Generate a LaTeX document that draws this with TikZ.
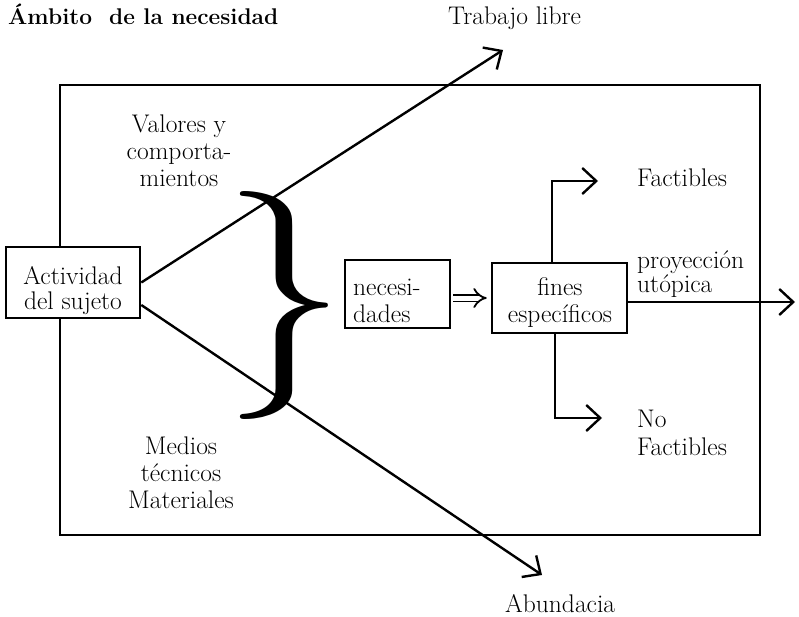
\documentclass[tikz,border=0pt]{standalone}
\usepackage{fontspec}
\usetikzlibrary{arrows.meta,calc}
\begin{document}
\begin{tikzpicture}[x=1pt,y=-1pt,
  txt/.style={font=\fontsize{25.5}{27}\selectfont, inner sep=0pt, align=center},
  titletxt/.style={font=\fontsize{22.7}{26}\selectfont\bfseries, inner sep=0pt},
  box/.style={draw, fill=white, line width=2.6pt, inner sep=0pt},
  arr/.style={line width=2.4pt, -{Straight Barb[length=14pt,width=26pt]}}]

\useasboundingbox (0,0) rectangle (799,617);
\fill[white] (0,0) rectangle (799,617);

% frame
\node[box, fill=none, line width=2.8pt, minimum width=700pt, minimum height=450pt] (amb) at (410,310) {};

% boxes
\node[box, minimum width=134pt, minimum height=71pt] (act) at (73,282.5) {};
\node[box, minimum width=105pt, minimum height=68pt] (nec) at (397.5,294) {};
\node[box, minimum width=135pt, minimum height=70pt] (fin) at (559.5,298) {};

% free ends
\coordinate (trab) at (503,50);
\coordinate (abun) at (542,575);
\coordinate (facT) at (598,181);
\coordinate (nofT) at (602,418);
\coordinate (proT) at (795,302);

% connectors
\draw[arr] (act.east) -- (trab);
\draw[arr] ([yshift=-22.5pt]act.east) -- (abun);
\draw[double, double distance=5pt, line width=1.8pt, -{Implies}, shorten <=2pt, shorten >=4pt] (nec.east |- fin.west) -- (fin.west);
\draw[arr] ([xshift=-7.5pt]fin.north) |- (facT);
\draw[arr] ([xshift=-4.5pt]fin.south) |- (nofT);
\draw[arr] ([yshift=-4pt]fin.east) -- (proT);

% brace
\node[inner sep=0pt] (brace) at (284,305.5) {\resizebox*{124pt}{228pt}{$\}$}};

% texts
\node[titletxt, anchor=base west] (title) at (8,25) {Ámbito\ \ de la necesidad};
\node[txt, anchor=base west] (trabL) at (448,25) {Trabajo libre};
\node[txt, anchor=base west] (abunL) at (505,612) {Abundacia};
\node[txt, anchor=base] (valL) at (179,187) {Valores y\\comporta-\\mientos};
\node[txt, anchor=base] (medL) at (181,508) {Medios\\técnicos\\Materiales};
\node[txt, anchor=base, font=\fontsize{25.5}{25}\selectfont] (actL) at (73,309) {Actividad\\del sujeto};
\node[txt, anchor=base west, align=left] (necL) at (353,322) {necesi-\\dades};
\node[txt, anchor=base] (finL) at (560,322) {fines\\específicos};
\node[txt, anchor=base west] (facL) at (637,187) {Factibles};
\node[txt, anchor=base west, align=left, font=\fontsize{25.5}{24}\selectfont] (proL) at (637,292) {proyección\\utópica};
\node[txt, anchor=base west, align=left, font=\fontsize{25.5}{28}\selectfont] (nofL) at (637,455) {No\\Factibles};
\end{tikzpicture}
\end{document}
